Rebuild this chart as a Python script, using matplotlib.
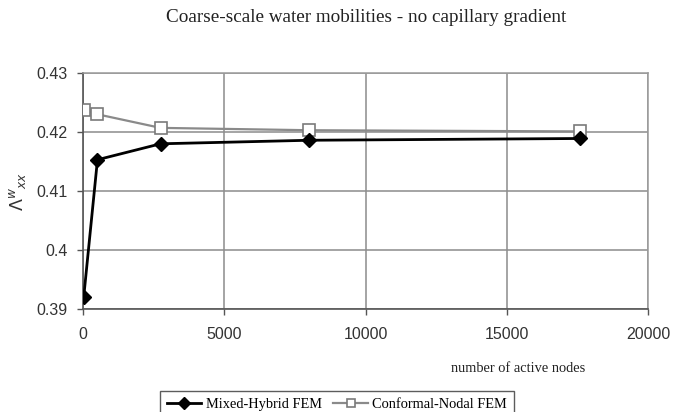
import matplotlib
matplotlib.use("Agg")
import matplotlib.pyplot as plt
from matplotlib.ticker import FixedLocator

# Number of active nodes for each refinement level
nodes = [27, 512, 2744, 8000, 17576]
# Coarse-scale water mobility for both discretisations
mixed_hybrid = [0.3921, 0.4153, 0.4180, 0.4186, 0.4189]
conformal_nodal = [0.4238, 0.4230, 0.4207, 0.4203, 0.4201]

x_ticks = [0, 5000, 10000, 15000, 20000]
x_tick_labels = ["0", "5000", "10000", "15000", "20000"]
y_ticks = [0.39, 0.40, 0.41, 0.42, 0.43]
y_tick_labels = ["0.39", "0.4", "0.41", "0.42", "0.43"]

title = "Coarse-scale water mobilities - no capillary gradient"
x_label = "number of active nodes"
series_names = ["Mixed-Hybrid FEM", "Conformal-Nodal FEM"]

serif = ["Liberation Serif", "DejaVu Serif"]
sans = ["Liberation Sans", "DejaVu Sans"]

fig = plt.figure(figsize=(6.74, 4.12), dpi=100)
ax = fig.add_axes([83 / 674, 1 - 309 / 412, (648 - 83) / 674, (309 - 73) / 412])

ax.plot(nodes, mixed_hybrid, color="black", lw=2.0, marker="D", ms=7.5,
        mfc="black", mec="black", label=series_names[0], zorder=4)
ax.plot(nodes, conformal_nodal, color="#8a8a8a", lw=1.6, marker="s", ms=8,
        mfc="white", mec="#7a7a7a", mew=1.2, label=series_names[1], zorder=3)

ax.set_xlim(0, 20000)
ax.set_ylim(0.39, 0.43)
ax.xaxis.set_major_locator(FixedLocator(x_ticks))
ax.yaxis.set_major_locator(FixedLocator(y_ticks))
ax.set_xticklabels(x_tick_labels, fontfamily=sans, fontsize=11.5, color="#333333")
ax.set_yticklabels(y_tick_labels, fontfamily=sans, fontsize=11.5, color="#333333")
ax.tick_params(axis="x", direction="out", length=4, width=1, color="#555555", pad=9)
ax.tick_params(axis="y", direction="out", length=4, width=1, color="#555555", pad=7)

ax.grid(True, color="#8c8c8c", lw=1.1)
ax.set_axisbelow(True)
for side in ["top", "right"]:
    ax.spines[side].set_color("#9a9a9a")
    ax.spines[side].set_linewidth(1.1)
for side in ["left", "bottom"]:
    ax.spines[side].set_color("#555555")
    ax.spines[side].set_linewidth(1.2)

ax.set_ylabel(r"$\Lambda^{w}{}_{xx}$", fontsize=12.5, color="#333333", labelpad=6)

fig.text(366 / 674, 1 - 17 / 412, title, ha="center", va="center",
         fontfamily=serif, fontsize=13.8, color="#222222")
fig.text(518 / 674, 1 - 368 / 412, x_label, ha="center", va="center",
         fontfamily=serif, fontsize=10.4, color="#222222")

leg = fig.legend(loc="upper left", bbox_to_anchor=(153 / 674, 1 - 384 / 412),
                 ncol=2, frameon=True, fancybox=False, handlelength=2.4,
                 handletextpad=0.3, columnspacing=0.8, borderpad=0.45,
                 prop={"family": serif, "size": 10.4})
leg.get_frame().set_edgecolor("#333333")
leg.get_frame().set_linewidth(1.0)
for h in leg.legend_handles:
    h.set_markersize(6)

fig.savefig("out.png", dpi=100)
